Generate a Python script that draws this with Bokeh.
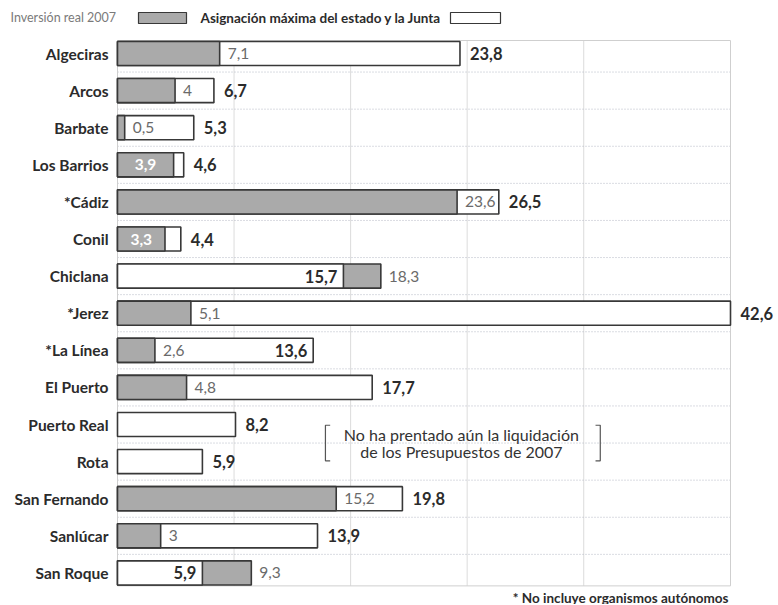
from bokeh.plotting import figure
from bokeh.models import ColumnDataSource, Range1d, Label, BoxAnnotation
from bokeh.core.properties import value
from bokeh.embed import file_html
from bokeh.resources import INLINE

# ---------------- data ----------------
cities = ["Algeciras", "Arcos", "Barbate", "Los Barrios", "*Cádiz", "Conil", "Chiclana",
          "*Jerez", "*La Línea", "El Puerto", "Puerto Real", "Rota", "San Fernando",
          "Sanlúcar", "San Roque"]
inversion = [7.1, 4, 0.5, 3.9, 23.6, 3.3, 18.3, 5.1, 2.6, 4.8, None, None, 15.2, 3, 9.3]
asignacion = [23.8, 6.7, 5.3, 4.6, 26.5, 4.4, 15.7, 42.6, 13.6, 17.7, 8.2, 5.9, 19.8, 13.9, 5.9]
grid_values = [8.1, 16.2, 24.3, 32.4]
legend_labels = ["Inversión real 2007", "Asignación máxima del estado y la Junta"]
note_lines = ["No ha prentado aún la liquidación", "de los Presupuestos de 2007"]
footnote = "* No incluye organismos autónomos"
bold_inside = ["*La Línea"]  # rows whose bold value sits inside the white bar

# ---------------- styles / layout ----------------
GRAY = "#aaaaaa"
EDGE = "#383838"
FONT = "Lato"
DARK = "#2b2b2b"
MID = "#6a6a6a"
W, H = 776, 604
X0, XR = 117, 730          # pixel position of value 0 and of the chart's right edge
Y0, PY = 53, 37.1          # pixel centre of first row, row pitch

n = len(cities)
idx = list(range(n))
xmax = max(asignacion)
PX = (XR - X0) / xmax


def fmt(v):
    return ("%g" % v).replace(".", ",")


p = figure(width=W, height=H, output_backend="svg", toolbar_location=None,
           x_range=Range1d(-X0 / PX, (W - X0) / PX),
           y_range=Range1d((H - Y0) / PY, -Y0 / PY),
           x_axis_location=None, y_axis_location=None,
           min_border=0, min_border_left=0, min_border_right=0,
           min_border_top=0, min_border_bottom=0)
p.background_fill_color = "white"
p.border_fill_color = "white"
p.outline_line_color = None
p.xgrid.visible = False
p.ygrid.visible = False

top, bottom = -0.35, n - 1 + 0.35

# chart frame and grid
p.segment(x0=grid_values, x1=grid_values, y0=top, y1=bottom, line_color="#dcdcdc", line_width=1)
sep = [i + 0.5 for i in range(n - 1)]
p.segment(x0=0, x1=xmax, y0=sep, y1=sep, line_color="#b4b8c4", line_width=1, line_dash="1 2")
p.quad(left=0, right=xmax, top=top, bottom=bottom, fill_color=None,
       line_color="#cfcfcf", line_width=1)

# category labels
p.text(x=0, y=idx, text=cities, x_offset=-9, text_align="right", text_baseline="middle",
       text_font=value(FONT), text_font_style="bold", text_font_size="15.5px",
       text_color=DARK)

# ---------------- bars ----------------
back_right, back_color, front_right, front_color, front_y = [], [], [], [], []
for i in idx:
    a, v = asignacion[i], inversion[i]
    if v is None:
        back_right.append(a); back_color.append("white")
        continue
    back_right.append(max(a, v))
    back_color.append(GRAY if v > a else "white")
    front_y.append(i)
    front_right.append(min(a, v))
    front_color.append(GRAY if v < a else "white")

bh = 0.65
p.hbar(y=idx, left=0, right=back_right, height=bh, fill_color=back_color,
       line_color=EDGE, line_width=1.6)
p.hbar(y=front_y, left=0, right=front_right, height=bh, fill_color=front_color,
       line_color=EDGE, line_width=1.6)

# ---------------- value labels ----------------
inv_out = dict(x=[], y=[], t=[])
inv_in = dict(x=[], y=[], t=[])
asig_out = dict(x=[], y=[], t=[])
asig_in = dict(x=[], y=[], t=[])
for i in idx:
    a, v = asignacion[i], inversion[i]
    if v is not None:
        if 0 < a - v < 1.5:
            inv_in["x"].append(v / 2); inv_in["y"].append(i); inv_in["t"].append(fmt(v))
        else:
            inv_out["x"].append(v); inv_out["y"].append(i); inv_out["t"].append(fmt(v))
    if (v is not None and v > a) or cities[i] in bold_inside:
        asig_in["x"].append(a); asig_in["y"].append(i); asig_in["t"].append(fmt(a))
    else:
        asig_out["x"].append(a); asig_out["y"].append(i); asig_out["t"].append(fmt(a))

common = dict(x="x", y="y", text="t", text_baseline="middle", text_font=value(FONT))
p.text(source=ColumnDataSource(inv_out), x_offset=8, text_align="left",
       text_color=MID, text_font_size="15.5px", **common)
p.text(source=ColumnDataSource(inv_in), x_offset=0, text_align="center",
       text_color="white", text_font_style="bold", text_font_size="15.5px", **common)
p.text(source=ColumnDataSource(asig_out), x_offset=10, text_align="left",
       text_color=DARK, text_font_style="bold", text_font_size="16.5px", **common)
p.text(source=ColumnDataSource(asig_in), x_offset=-6, text_align="right",
       text_color=DARK, text_font_style="bold", text_font_size="16.5px", **common)

# ---------------- note with brackets ----------------
note_x, note_y = 23.9, 10.5
p.text(x=[note_x] * len(note_lines),
       y=[note_y + (k - (len(note_lines) - 1) / 2) * 0.46 for k in range(len(note_lines))],
       text=note_lines, text_align="center", text_baseline="middle", text_font=value(FONT),
       text_font_size="16px", text_color="#333333")
bx0, bx1, bhh, serif = 14.45, 33.55, 0.48, 0.33
p.multi_line(xs=[[bx0 + serif, bx0, bx0, bx0 + serif], [bx1 - serif, bx1, bx1, bx1 - serif]],
             ys=[[note_y - bhh, note_y - bhh, note_y + bhh, note_y + bhh]] * 2,
             line_color="#555555", line_width=1.2)

# ---------------- legend (screen units; the frame fills the canvas) ----------------
p.add_layout(Label(x=10, y=H - 17, x_units="screen", y_units="screen", text=legend_labels[0],
                   text_baseline="middle", text_font=FONT, text_font_size="12.5px",
                   text_color="#7a7a7a"))
p.add_layout(BoxAnnotation(left=138, right=186, bottom=H - 23, top=H - 12, left_units="screen",
                           right_units="screen", bottom_units="screen", top_units="screen",
                           fill_color=GRAY, fill_alpha=1, line_color=EDGE, line_width=1.2,
                           line_alpha=1))
p.add_layout(Label(x=200, y=H - 17, x_units="screen", y_units="screen", text=legend_labels[1],
                   text_baseline="middle", text_font=FONT, text_font_size="13.5px",
                   text_font_style="bold", text_color=DARK))
p.add_layout(BoxAnnotation(left=450, right=500, bottom=H - 23, top=H - 12, left_units="screen",
                           right_units="screen", bottom_units="screen", top_units="screen",
                           fill_color="white", fill_alpha=1, line_color=EDGE, line_width=1.2,
                           line_alpha=1))

# footnote
p.add_layout(Label(x=728, y=H - 597, x_units="screen", y_units="screen", text=footnote,
                   text_align="right", text_baseline="middle", text_font=FONT,
                   text_font_size="13.5px", text_font_style="bold", text_color=DARK))

open("out.html", "w").write(file_html(p, INLINE))
